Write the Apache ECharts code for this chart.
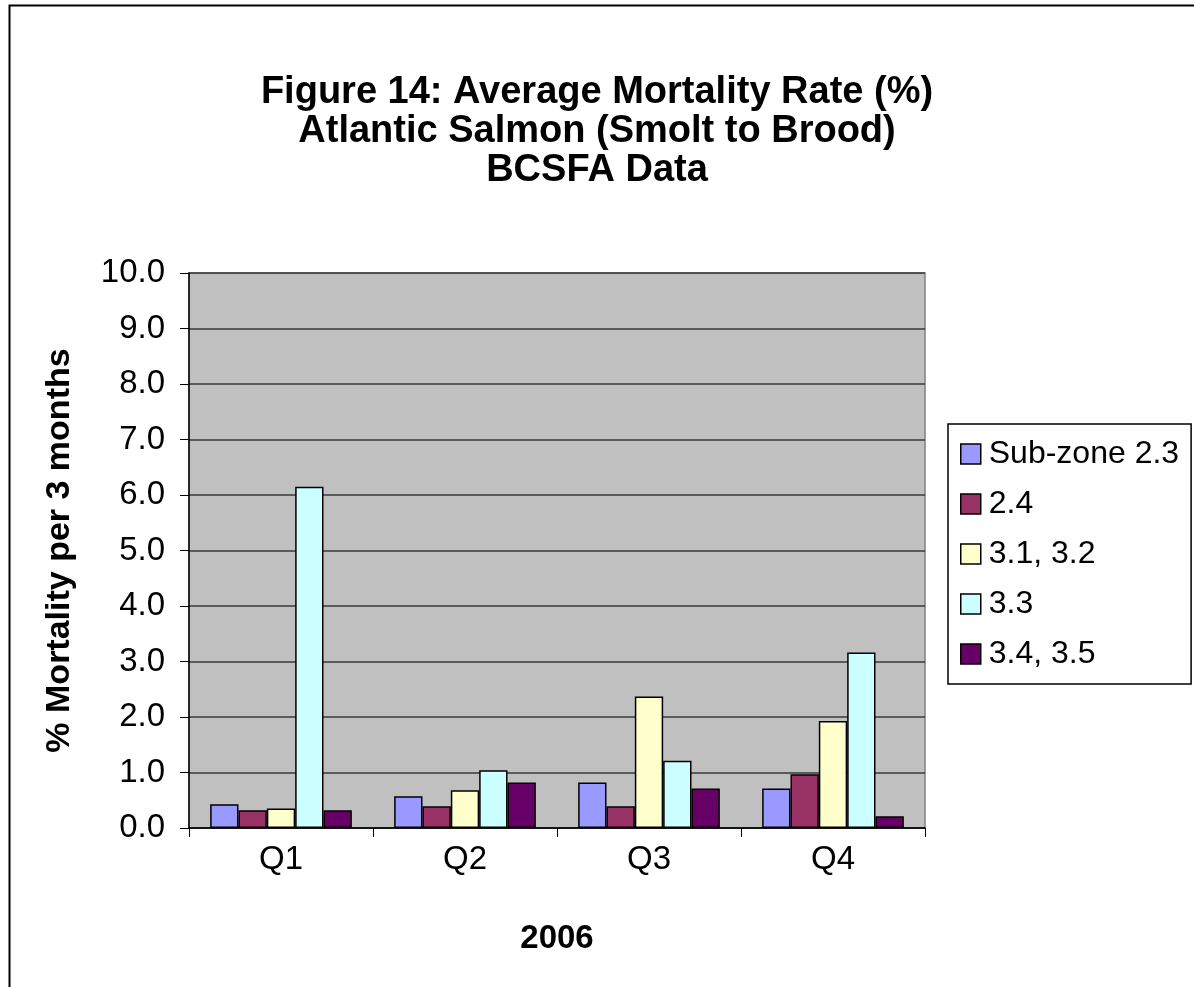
<!DOCTYPE html>
<html>
<head>
<meta charset="utf-8">
<script src="https://cdn.jsdelivr.net/npm/echarts@6/dist/echarts.min.js"></script>
<style>
html, body { margin: 0; padding: 0; background: #fff; }
#chart { width: 1194px; height: 987px; }
</style>
</head>
<body>
<div id="chart"></div>
<script>
var quarters = ['Q1', 'Q2', 'Q3', 'Q4'];
var zones = ['Sub-zone 2.3', '2.4', '3.1, 3.2', '3.3', '3.4, 3.5'];
var zone23 = [0.43, 0.57, 0.82, 0.71];
var zone24 = [0.32, 0.39, 0.39, 0.97];
var zone3132 = [0.35, 0.68, 2.37, 1.93];
var zone33 = [6.15, 1.04, 1.21, 3.16];
var zone3435 = [0.32, 0.82, 0.71, 0.21];
var colors = ['#9999FF', '#993366', '#FFFFCC', '#CCFFFF', '#660066'];

var chart = echarts.init(document.getElementById('chart'));
var font = '"Liberation Sans", Arial, sans-serif';
var values = [zone23, zone24, zone3132, zone33, zone3435];

var series = [];
for (var i = 0; i < zones.length; ++i) {
  series.push({
    name: zones[i],
    type: 'bar',
    data: values[i],
    barGap: '0%',
    barCategoryGap: '23%',
    itemStyle: {
      color: colors[i],
      borderColor: '#000',
      borderWidth: 1.5
    }
  });
}

var option = {
  backgroundColor: '#fff',
  animation: false,
  textStyle: { fontFamily: font },
  title: {
    text: 'Figure 14: Average Mortality Rate (%)\nAtlantic Salmon (Smolt to Brood)\nBCSFA Data',
    left: 'center',
    top: 68,
    textStyle: {
      fontFamily: font,
      fontSize: 38,
      fontWeight: 'bold',
      color: '#000',
      lineHeight: 39
    }
  },
  graphic: [{
    type: 'rect',
    shape: { x: 9.5, y: 5.5, width: 1200, height: 1000 },
    style: { fill: 'none', stroke: '#000', lineWidth: 2 },
    silent: true
  }],
  legend: {
    orient: 'vertical',
    left: 948,
    top: 424,
    padding: [14, 12, 14, 12],
    itemGap: 18,
    itemWidth: 20,
    itemHeight: 20,
    icon: 'rect',
    borderColor: '#000',
    borderWidth: 1.5,
    backgroundColor: '#fff',
    textStyle: { fontFamily: font, fontSize: 32, lineHeight: 32, color: '#000', padding: [0, 0, 0, 3] },
    itemStyle: { borderColor: '#000', borderWidth: 1.5 },
    data: zones
  },
  grid: {
    left: 189,
    right: 269,
    top: 273,
    bottom: 159,
    show: true,
    backgroundColor: '#C0C0C0',
    borderColor: '#808080',
    borderWidth: 1.5
  },
  xAxis: {
    type: 'category',
    data: quarters,
    name: '2006',
    nameLocation: 'middle',
    nameGap: 94,
    nameTextStyle: { fontFamily: font, fontSize: 33, fontWeight: 'bold', color: '#000' },
    axisLine: { lineStyle: { color: '#000', width: 1.5 } },
    axisTick: { show: true, length: 9, lineStyle: { color: '#000' } },
    axisLabel: { fontFamily: font, fontSize: 33, color: '#000', margin: 15 }
  },
  yAxis: {
    type: 'value',
    min: 0,
    max: 10,
    interval: 1,
    name: '% Mortality per 3 months',
    nameLocation: 'middle',
    nameGap: 112,
    nameTextStyle: { fontFamily: font, fontSize: 34, fontWeight: 'bold', color: '#000' },
    axisLine: { show: true, lineStyle: { color: '#000', width: 1.5 } },
    axisTick: { show: true, length: 9, lineStyle: { color: '#000' } },
    axisLabel: {
      fontFamily: font,
      fontSize: 33,
      color: '#000',
      margin: 24,
      formatter: function (v) { return v.toFixed(1); }
    },
    splitLine: { show: true, lineStyle: { color: '#3a3a3a', width: 1.5 } }
  },
  series: series
};

chart.setOption(option);
</script>
</body>
</html>
